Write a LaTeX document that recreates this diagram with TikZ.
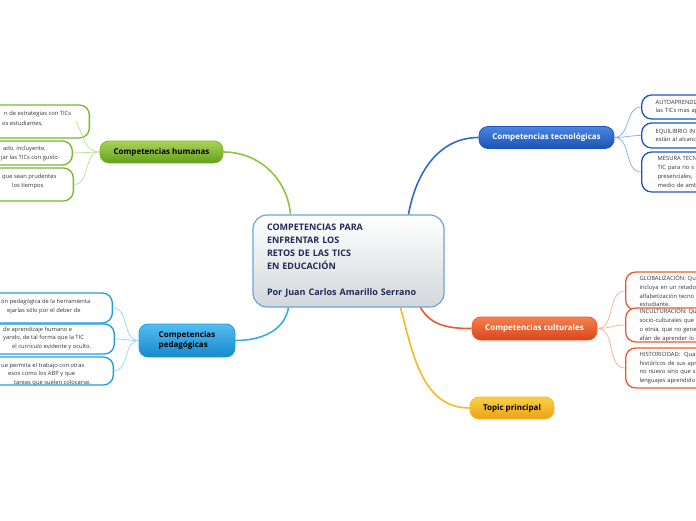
\documentclass[tikz,border=0pt]{standalone}
\usepackage{fontspec}
\setmainfont{Open Sans}
\usetikzlibrary{positioning}

\definecolor{navy}{HTML}{1F2A56}
\definecolor{centerline}{HTML}{6AA6DA}
\definecolor{centerbot}{HTML}{D3D7DB}
\definecolor{humtop}{HTML}{A9D356}
\definecolor{humbot}{HTML}{62A01E}
\definecolor{humline}{HTML}{8CC63F}
\definecolor{humleaf}{HTML}{7AB72C}
\definecolor{humthin}{HTML}{C4E196}
\definecolor{pedtop}{HTML}{53BDF0}
\definecolor{pedbot}{HTML}{1688CC}
\definecolor{pedline}{HTML}{35AEE8}
\definecolor{pedleaf}{HTML}{1E9EE0}
\definecolor{pedthin}{HTML}{9BD6F4}
\definecolor{tectop}{HTML}{4A86E0}
\definecolor{tecbot}{HTML}{1C52B5}
\definecolor{tecline}{HTML}{2E6AD0}
\definecolor{tecleaf}{HTML}{1D56C2}
\definecolor{tecthin}{HTML}{8DB0EC}
\definecolor{cultop}{HTML}{F5814F}
\definecolor{culbot}{HTML}{D9451B}
\definecolor{culline}{HTML}{E95A30}
\definecolor{culleaf}{HTML}{EA5A2E}
\definecolor{culthin}{HTML}{F6B3A0}
\definecolor{toptop}{HTML}{FBCF45}
\definecolor{topbot}{HTML}{EBA216}
\definecolor{topline}{HTML}{F4BA22}
\definecolor{leafgray}{HTML}{333333}

\begin{document}
\begin{tikzpicture}[x=1pt, y=-1pt,
    pill/.style={rounded corners=9pt, line width=0.8pt, inner xsep=8pt, inner ysep=0pt, minimum height=22pt, font=\fontsize{8}{10}\selectfont\bfseries},
    leafbox/.style={draw, line width=1.3pt, fill=white, rounded corners=10pt},
    leafline/.style={anchor=base west, inner sep=0pt, text=leafgray, font=\fontsize{5.8}{8.8}\selectfont},
    rightleaf/.style={leafbox, anchor=west, align=left, text width=90pt, inner xsep=14pt, inner ysep=0pt, text=leafgray, font=\fontsize{5.8}{8.8}\selectfont},
    branch/.style={line width=1.6pt},
    twig/.style={line width=0.8pt}]
      \useasboundingbox (0,0) rectangle (696,520);
      \clip (0,0) rectangle (696,520);

      % Central topic
      \node[draw=centerline, line width=1.2pt, rounded corners=14pt, top color=white, bottom color=centerbot, text=navy, align=left, text width=163pt, inner xsep=14pt, minimum height=92pt, font=\fontsize{9}{13}\selectfont\bfseries] (topic) at (348.5,261) {COMPETENCIAS PARA\\ENFRENTAR LOS\\RETOS DE LAS TICS\\EN EDUCACIÓN\\[13pt]Por Juan Carlos Amarillo Serrano};

      % Main branches
      \node[pill, draw=humleaf, top color=humtop, bottom color=humbot, text=black, minimum width=123pt] (humanas) at (161.5,152) {Competencias humanas};
      \node[pill, draw=pedleaf, top color=pedtop, bottom color=pedbot, text=black, minimum width=96pt, minimum height=33pt, align=left] (pedagogicas) at (187,340.5) {Competencias\\pedagógicas};
      \node[pill, draw=tecleaf, top color=tectop, bottom color=tecbot, text=white, minimum width=135pt] (tecnologicas) at (546.5,137.5) {Competencias tecnológicas};
      \node[pill, draw=culleaf, top color=cultop, bottom color=culbot, text=white, minimum width=125pt, minimum height=23pt] (culturales) at (534.5,328.5) {Competencias culturales};
      \node[pill, draw=topline, top color=toptop, bottom color=topbot, text=black, minimum width=84pt] (principal) at (512,408) {Topic principal};

      % Leaves of Competencias humanas
      \node[leafbox, draw=humleaf, minimum width=110pt, minimum height=33pt, anchor=east] (hum1) at (90,121.5) {};
      \node[leafbox, draw=humleaf, minimum width=100pt, minimum height=24pt, anchor=east] (hum2) at (73,153) {};
      \node[leafbox, draw=humleaf, minimum width=100pt, minimum height=33pt, anchor=east] (hum3) at (74,184.5) {};
      \foreach \tx/\ty/\tline [count=\k] in {4/115/{n de estrategias con TICs}, 2/125/{os estudiantes,},
          3/150/{ado, incluyente,}, 1/159/{jar las TICs con gusto},
          2/178.5/{que sean prudentes}, 12/187/{los tiempos}}
          \node[leafline] (humtxt\k) at (\tx,\ty) {\tline};

      % Leaves of Competencias pedagogicas
      \node[leafbox, draw=pedleaf, minimum width=140pt, minimum height=30pt, anchor=east] (ped1) at (113,308) {};
      \node[leafbox, draw=pedleaf, minimum width=140pt, minimum height=30pt, anchor=east] (ped2) at (115,339) {};
      \node[leafbox, draw=pedleaf, minimum width=140pt, minimum height=28pt, anchor=east] (ped3) at (114,371) {};
      \foreach \tx/\ty/\tline [count=\k] in {1/303.5/{ón pedagógica de la herramienta}, 7/312/{ejarlas sólo por el deber de},
          3/331/{de aprendizaje humano e}, 3/339.5/{yando, de tal forma que la TIC}, 12/348.5/{el currículo evidente y oculto.},
          1/367/{ue permita el trabajo con otras}, 8/375/{esos como los ABP y que}, 14/384/{tareas que suelen colocarse.}}
          \node[leafline] (pedtxt\k) at (\tx,\ty) {\tline};

      % Leaves of Competencias tecnologicas
      \node[rightleaf, draw=tecleaf, minimum height=24pt] (tec1) at (641,107) {AUTOAPRENDIZ\\las TICs mas apr};
      \node[rightleaf, draw=tecleaf, minimum height=25pt] (tec2) at (641,135.5) {EQUILIBRIO IN\\están al alcanc};
      \node[rightleaf, draw=tecleaf, minimum height=40pt, inner xsep=16pt] (tec3) at (641,172) {MESURA TECN\\TIC para no s\\presenciales,\\medio de amb};

      % Leaves of Competencias culturales
      \node[rightleaf, draw=culleaf, minimum height=38pt] (cul1) at (625,291) {GLOBALIZACIÓN: Qu\\incluya en un retado\\alfabetización tecno\\estudiante.};
      \node[rightleaf, draw=culleaf, minimum height=34pt] (cul2) at (625,325) {INCULTURACIÓN: Qu\\socio-culturales que\\o etnia, que no gener\\afán de aprender lo t};
      \node[rightleaf, draw=culleaf, minimum height=40pt] (cul3) at (625,368) {HISTORICIDAD:\ \ Qua\\históricos de sus apr\\no nuevo sino que si\\lenguajes aprendido};

      % Connections from the central topic
      \draw[branch, humline] ([xshift=-58pt]topic.north) to[out=95, in=0] (humanas.east);
      \draw[branch, tecline] ([xshift=60pt]topic.north) to[out=80, in=180] (tecnologicas.west);
      \draw[branch, pedline] ([xshift=-60pt]topic.south) to[out=-100, in=0] (pedagogicas.east);
      \draw[branch, topline] ([xshift=52pt]topic.south) to[out=-75, in=180] (principal.west);
      \draw[branch, culline] ([xshift=72pt]topic.south) to[out=-60, in=180] (culturales.west);

      % Connections to the leaves
      \draw[twig, humthin] (humanas.west) to[out=180, in=-60] ([xshift=-14pt]hum1.east);
      \draw[twig, humthin] (humanas.west) -- (hum2.east);
      \draw[twig, humthin] (humanas.west) to[out=180, in=0] (hum3.east);
      \foreach \i in {1,2,3} {
          \draw[twig, pedthin] (pedagogicas.west) to[out=180, in=0] (ped\i.east);
          \draw[twig, tecthin] (tecnologicas.east) to[out=0, in=180] (tec\i.west);
          \draw[twig, culthin] (culturales.east) to[out=0, in=180] (cul\i.west);
      }
\end{tikzpicture}
\end{document}
